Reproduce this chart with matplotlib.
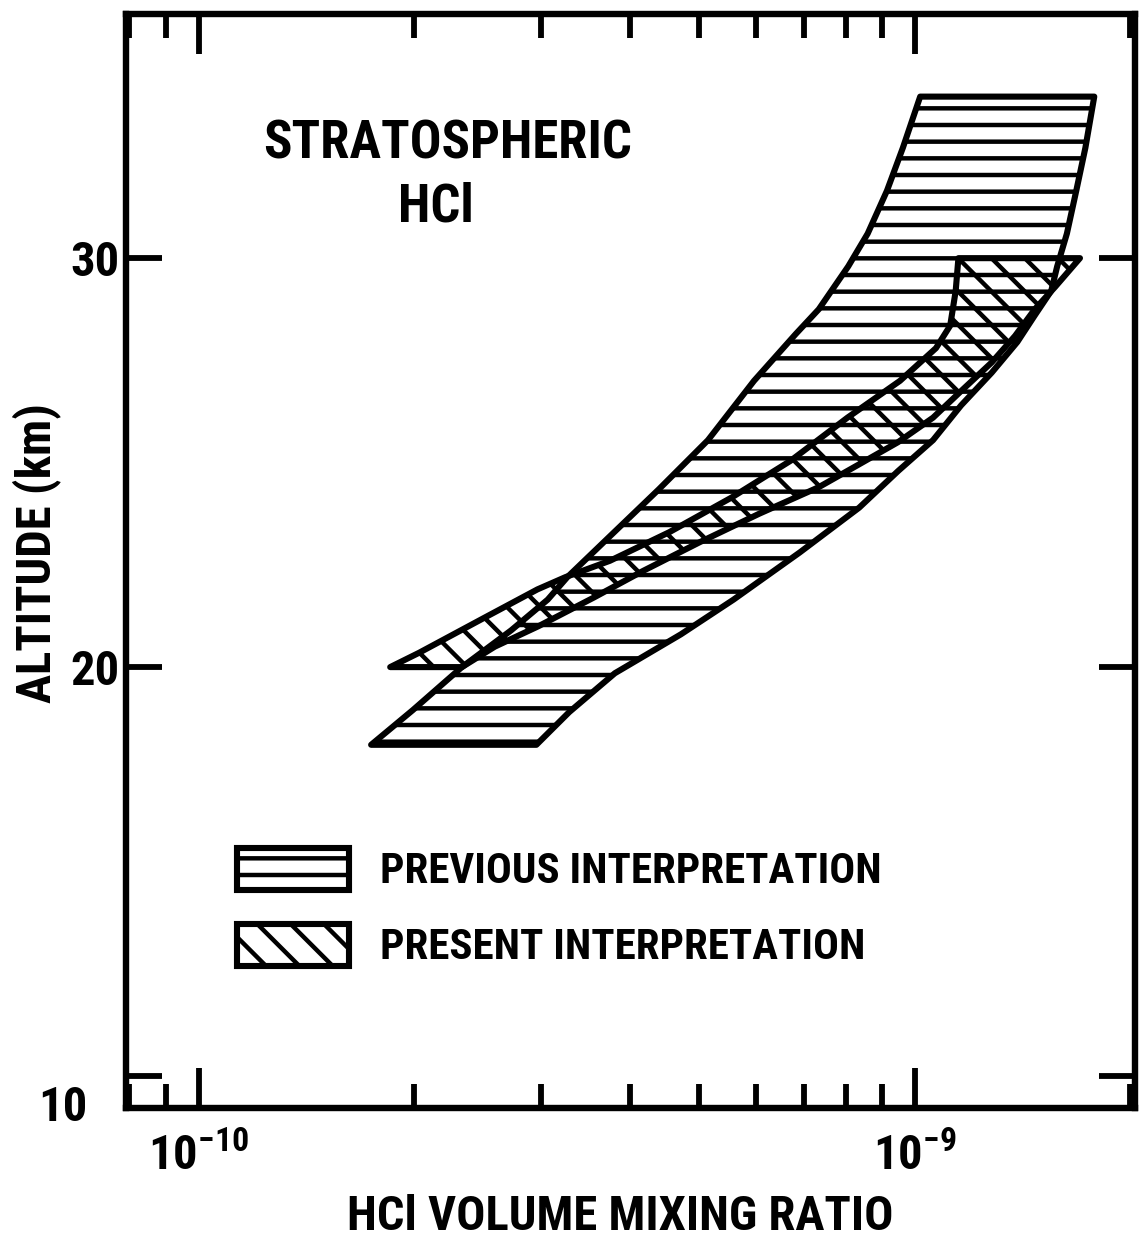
import numpy as np
import matplotlib
matplotlib.use('Agg')
import matplotlib.pyplot as plt
from matplotlib.patches import Polygon, Patch
from matplotlib.ticker import NullFormatter, LogLocator

plt.rcParams['font.family'] = ['Roboto Condensed', 'DejaVu Sans Condensed',
                               'Liberation Sans Narrow', 'Roboto', 'DejaVu Sans']
plt.rcParams['font.weight'] = 'bold'
plt.rcParams['axes.labelweight'] = 'bold'
plt.rcParams['hatch.linewidth'] = 3.2

# --- data (mixing ratio in units of 1e-10, altitude in km) ---
# previous interpretation: left edge bottom->top, right edge top->bottom
prev_left_x = [1.74, 1.99, 2.33, 2.73, 3.07, 3.27, 3.55, 4.39, 5.14, 5.96,
               6.82, 7.34, 8.07, 8.59, 9.14, 9.62, 10.17]
prev_left_alt = [18.1, 18.95, 20.0, 20.9, 21.65, 22.2, 22.8, 24.35, 25.55, 27.0,
                 28.15, 28.75, 29.8, 30.6, 31.65, 32.7, 33.95]
prev_right_x = [17.8, 17.3, 16.8, 16.3, 15.8, 15.5, 14.7, 13.9, 12.8, 11.6,
                10.6, 9.48, 8.36, 6.90, 5.58, 4.71, 3.81, 3.29, 2.96]
prev_right_alt = [33.95, 32.7, 31.65, 30.6, 29.8, 29.2, 28.6, 27.95, 27.2, 26.4,
                  25.55, 24.8, 23.9, 22.8, 21.65, 20.8, 19.85, 18.9, 18.1]

# present interpretation: upper edge tip->top, lower edge top->tip
pres_upper_x = [1.85, 2.03, 2.50, 2.97, 3.25, 3.75, 4.54, 5.55, 6.71, 8.05,
                9.53, 10.7, 11.2, 11.4, 11.5]
pres_upper_alt = [20.0, 20.35, 21.2, 21.9, 22.2, 22.6, 23.3, 24.15, 25.05, 26.1,
                  27.0, 27.8, 28.35, 29.2, 30.0]
pres_lower_x = [17.0, 15.7, 14.7, 13.8, 12.8, 11.6, 10.6, 9.47, 8.34, 7.34,
                6.06, 5.00, 4.17, 3.56, 2.98, 2.59, 2.33]
pres_lower_alt = [30.0, 29.3, 28.75, 28.1, 27.45, 26.75, 26.1, 25.5, 24.95, 24.4,
                  23.75, 23.05, 22.35, 21.7, 21.0, 20.5, 20.0]

y_ticks = [10, 20, 30]
x_major = [1e-10, 1e-9]
x_major_labels = [r'$\mathdefault{10^{-10}}$', r'$\mathdefault{10^{-9}}$']
legend_labels = ['PREVIOUS INTERPRETATION', 'PRESENT INTERPRETATION']

# --- figure ---
fig = plt.figure(figsize=(11.39, 12.40), dpi=100)
ax = fig.add_axes([0.1106, 0.1065, 0.886, 0.8822])

prev_xy = np.column_stack([np.array(prev_left_x + prev_right_x) * 1e-10,
                           prev_left_alt + prev_right_alt])
pres_xy = np.column_stack([np.array(pres_upper_x + pres_lower_x) * 1e-10,
                           pres_upper_alt + pres_lower_alt])

lw = 4.4
ax.add_patch(Polygon(prev_xy, closed=True, facecolor='white', edgecolor='black',
                     hatch='-', linewidth=lw, joinstyle='round', zorder=2))
ax.add_patch(Polygon(pres_xy, closed=True, facecolor='none', edgecolor='black',
                     hatch='\\', linewidth=lw, joinstyle='round', zorder=3))

ax.set_xscale('log')
ax.set_xlim(7.91e-11, 2.03e-9)
ax.set_ylim(9.22, 35.97)

ax.set_xticks(x_major, x_major_labels)
ax.xaxis.set_minor_locator(LogLocator(base=10, subs=np.arange(2, 10)))
ax.xaxis.set_minor_formatter(NullFormatter())
ax.set_yticks(y_ticks, ['', '20', '30'])

ax.tick_params(axis='x', which='major', direction='in', length=29, width=4.2,
               top=True, bottom=True, labelsize=35, pad=18)
ax.tick_params(axis='x', which='minor', direction='in', length=17, width=4.2,
               top=True, bottom=True)
ax.tick_params(axis='y', which='major', direction='in', length=26, width=4.2,
               left=True, right=True, labelsize=35, pad=5)
for s in ax.spines.values():
    s.set_linewidth(4.6)

# the 10 km label sits down at the corner
ax.text(-0.0377, 0.0, '10', transform=ax.transAxes, ha='right', va='center',
        fontsize=35)

ax.set_xlabel('HCl VOLUME MIXING RATIO', fontsize=35, va='center')
ax.xaxis.set_label_coords(0.4896, -0.0996)
ax.set_ylabel('ALTITUDE (km)', fontsize=35, va='center')
ax.yaxis.set_label_coords(-0.0882, 0.507)

ax.text(0.319, 0.881, 'STRATOSPHERIC', transform=ax.transAxes, ha='center',
        va='center', fontsize=38)
ax.text(0.307, 0.8236, 'HCl', transform=ax.transAxes, ha='center',
        va='center', fontsize=38)

handles = [Patch(facecolor='white', edgecolor='black', hatch='-', linewidth=lw),
           Patch(facecolor='white', edgecolor='black', hatch='\\', linewidth=lw)]
ax.legend(handles, legend_labels, loc='upper left', bbox_to_anchor=(0.110, 0.2377),
          frameon=False, fontsize=31, handlelength=2.6, handleheight=1.12,
          handletextpad=0.72, labelspacing=0.73, borderpad=0, borderaxespad=0)

fig.savefig('out.png', dpi=100)
